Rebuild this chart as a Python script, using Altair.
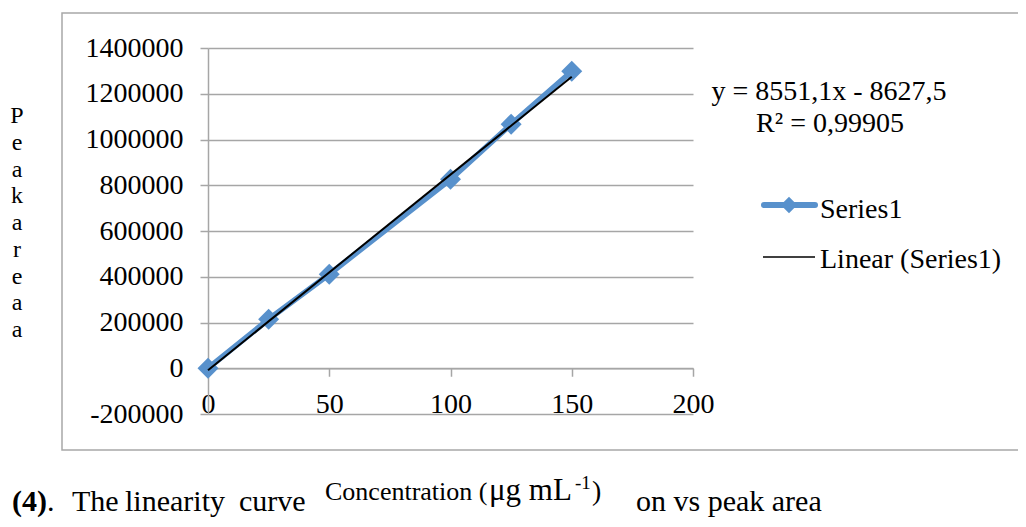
import altair as alt
import pandas as pd

# ---- data ----
conc = [0, 25, 50, 100, 125, 150]
area = [0, 214000, 411000, 826000, 1067000, 1298000]
series_name = "Series1"
trend_name = "Linear (Series1)"
slope = 8551.1
intercept = -8627.5
trend_x = [0, 150]
x_ticks = [0, 50, 100, 150, 200]
y_ticks = [-200000, 0, 200000, 400000, 600000, 800000, 1000000, 1200000, 1400000]
eq_text = "y = 8551,1x - 8627,5"
r2_text = "R\u00b2 = 0,99905"
y_title_letters = ["P", "e", "a", "k", "a", "r", "e", "a", "a"]

FONT = "Liberation Serif"
GRID = "#a6a6a6"
BLUE = "#5891cc"

df = pd.DataFrame({"conc": conc, "area": area, "series": series_name})
trend = pd.DataFrame({"conc": trend_x,
                      "area": [slope * v + intercept for v in trend_x],
                      "series": trend_name})
one = pd.DataFrame({"d": [0]})

PLOT_H = 366
xs = alt.Scale(domain=[0, 200], nice=False, zero=False)
ys = alt.Scale(domain=[-200000, 1400000], nice=False, zero=False)
# pixel distance from the bottom of the plot up to the y = 0 line
x_axis_offset = -PLOT_H * (0 - (-200000)) / 1600000.0

x_axis = alt.Axis(values=x_ticks, offset=x_axis_offset, tickSize=8, tickColor=GRID,
                  tickWidth=1.5, domainColor=GRID, domainWidth=1.5, grid=False,
                  labelFont=FONT, labelFontSize=28, labelColor="black",
                  labelBaseline="alphabetic", labelPadding=36, labelFlush=False,
                  labelOverlap=False, title=None, labelExpr="'' + datum.value")
y_axis = alt.Axis(values=y_ticks, tickSize=8, tickColor=GRID, tickWidth=1.5,
                  domainColor=GRID, domainWidth=1.5, grid=True, gridColor=GRID,
                  gridWidth=1.5, labelFont=FONT, labelFontSize=28, labelColor="black",
                  labelPadding=17, labelFlush=False, labelOverlap=False, title=None,
                  labelExpr="'' + datum.value")


def txt(s, x, y, size=28, align="left", baseline="alphabetic", weight="normal", **kw):
    return alt.Chart(one).mark_text(text=s, align=align, baseline=baseline, font=FONT,
                                    fontSize=size, fontWeight=weight, color="black",
                                    **kw).encode(x=alt.value(x), y=alt.value(y))


border = alt.Chart(one).mark_rect(fill="white", fillOpacity=0, stroke="#a8a8a8",
                                  strokeWidth=1.5).encode(
    x=alt.value(-146), x2=alt.value(830), y=alt.value(-35), y2=alt.value(402))

series_line = alt.Chart(df).mark_line(color=BLUE, strokeWidth=5.5, strokeCap="round").encode(
    x=alt.X("conc:Q", scale=xs, axis=x_axis),
    y=alt.Y("area:Q", scale=ys, axis=y_axis),
    order="conc:Q")

series_pts = alt.Chart(df).mark_point(shape="diamond", filled=True, size=440,
                                      color=BLUE, opacity=1).encode(
    x=alt.X("conc:Q", scale=xs), y=alt.Y("area:Q", scale=ys))

trend_line = alt.Chart(trend).mark_line(color="black", strokeWidth=2).encode(
    x=alt.X("conc:Q", scale=xs), y=alt.Y("area:Q", scale=ys))

# legend
leg1_line = alt.Chart(one).mark_rule(color=BLUE, strokeWidth=6, strokeCap="round").encode(
    x=alt.value(556), x2=alt.value(607), y=alt.value(157))
leg1_pt = alt.Chart(one).mark_point(shape="diamond", filled=True, size=270,
                                    color=BLUE, opacity=1).encode(
    x=alt.value(581), y=alt.value(157))
leg2_line = alt.Chart(one).mark_rule(color="black", strokeWidth=1.5).encode(
    x=alt.value(555), x2=alt.value(607), y=alt.value(209))

cover = alt.Chart(one).mark_rect(fill="white", stroke="white", strokeWidth=0).encode(
    x=alt.value(99), x2=alt.value(427), y=alt.value(422), y2=alt.value(475))

CAP_Y = 463
layers = [
    border, series_line, series_pts, trend_line,
    txt(eq_text, 621, 52, align="center"),
    txt(r2_text, 622, 84, align="center"),
    leg1_line, leg1_pt, leg2_line,
    txt(series_name, 612, 170),
    txt(trend_name, 612, 220),
    txt(y_title_letters, -191, 75, size=24, align="center", lineHeight=26.75),
    txt("(4)", -196, CAP_Y, size=30, weight="bold"),
    txt(".", -161, CAP_Y, size=30),
    txt("The", -136, CAP_Y, size=30),
    txt("linearity", -83, CAP_Y, size=30),
    txt("curve", 31, CAP_Y, size=30),
    txt("on vs peak area", 428, CAP_Y, size=30),
    cover,
    txt("Concentration (", 117, 452, size=26),
    txt("\u03bcg mL", 281, 452, size=31),
    txt("-1", 367, 441, size=19),
    txt(")", 384, 452, size=28),
]

chart = alt.layer(*layers).properties(
    width=485, height=PLOT_H,
    padding={"left": 200, "top": 40, "right": 325, "bottom": 105},
    autosize=alt.AutoSizeParams(type="none"),
    background="white",
).configure_view(strokeWidth=0)

chart.save("out.html", embed_options={"renderer": "svg", "actions": False})
